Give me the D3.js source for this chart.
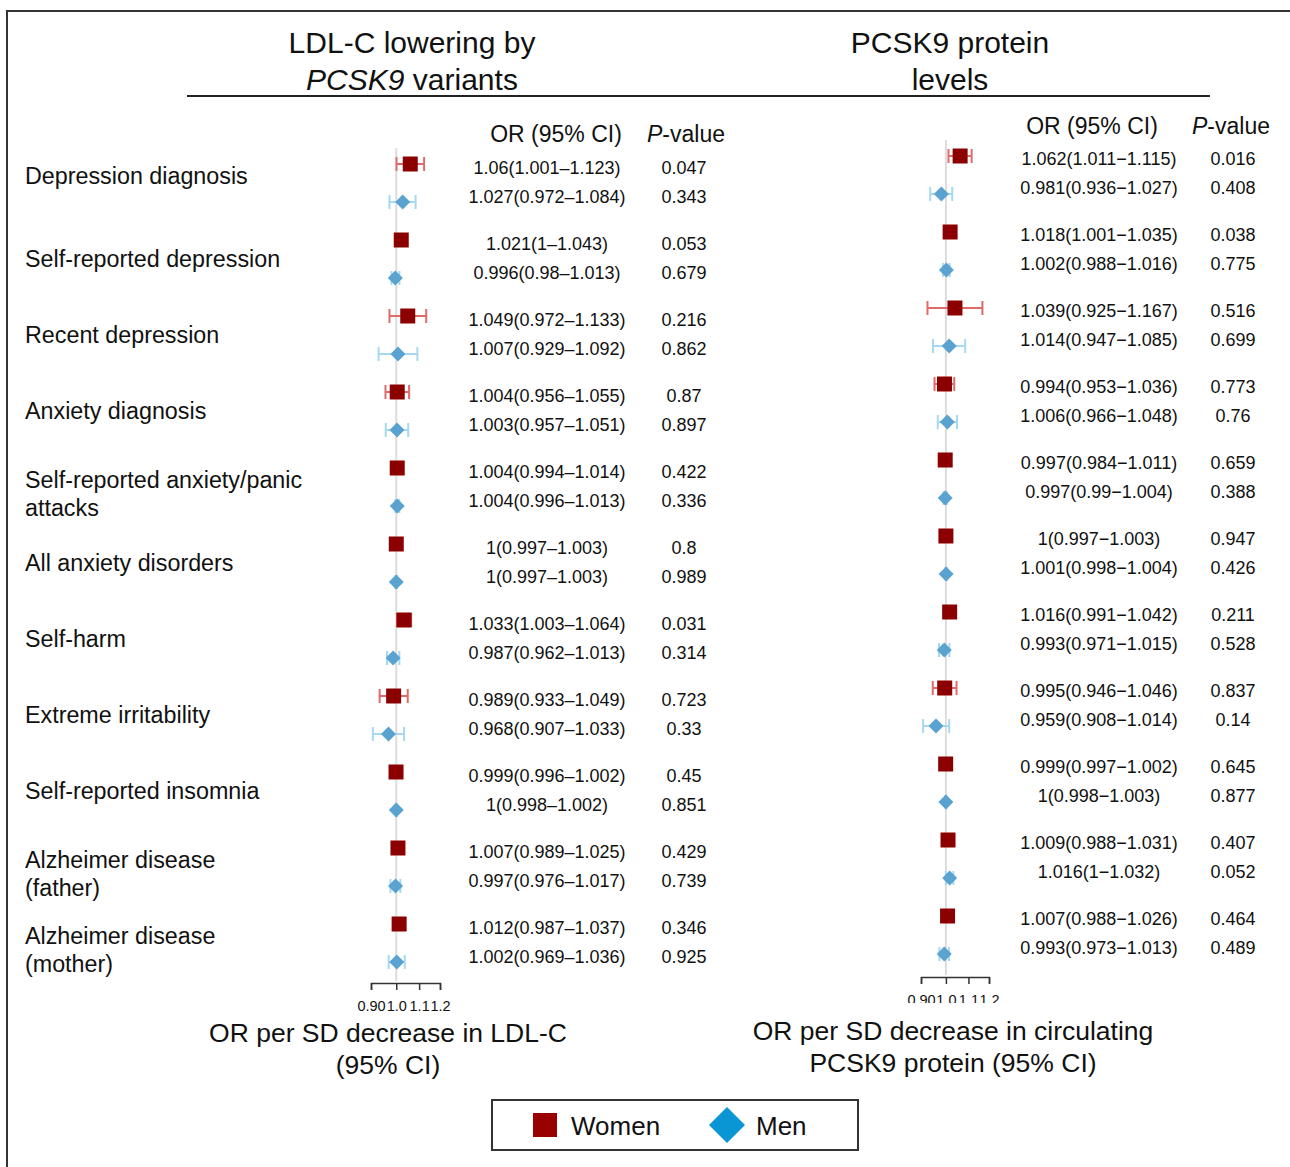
<!DOCTYPE html>
<html>
<head>
<meta charset="utf-8">
<script src="https://cdn.jsdelivr.net/npm/d3@7"></script>
<style>
    body { margin: 0; background: #fff; }
    svg text { font-family: "Liberation Sans", Arial, Helvetica, sans-serif; fill: #111; }
</style>
</head>
<body>
<script>
// ----- Data -----

const outcomes = [
    ["Depression diagnosis"],
    ["Self-reported depression"],
    ["Recent depression"],
    ["Anxiety diagnosis"],
    ["Self-reported anxiety/panic", "attacks"],
    ["All anxiety disorders"],
    ["Self-harm"],
    ["Extreme irritability"],
    ["Self-reported insomnia"],
    ["Alzheimer disease", "(father)"],
    ["Alzheimer disease", "(mother)"]
];

// LDL-C lowering by PCSK9 variants
const ldlWomenOR = [1.06, 1.021, 1.049, 1.004, 1.004, 1, 1.033, 0.989, 0.999, 1.007, 1.012];
const ldlWomenLo = [1.001, 1, 0.972, 0.956, 0.994, 0.997, 1.003, 0.933, 0.996, 0.989, 0.987];
const ldlWomenHi = [1.123, 1.043, 1.133, 1.055, 1.014, 1.003, 1.064, 1.049, 1.002, 1.025, 1.037];
const ldlWomenP = [0.047, 0.053, 0.216, 0.87, 0.422, 0.8, 0.031, 0.723, 0.45, 0.429, 0.346];
const ldlMenOR = [1.027, 0.996, 1.007, 1.003, 1.004, 1, 0.987, 0.968, 1, 0.997, 1.002];
const ldlMenLo = [0.972, 0.98, 0.929, 0.957, 0.996, 0.997, 0.962, 0.907, 0.998, 0.976, 0.969];
const ldlMenHi = [1.084, 1.013, 1.092, 1.051, 1.013, 1.003, 1.013, 1.033, 1.002, 1.017, 1.036];
const ldlMenP = [0.343, 0.679, 0.862, 0.897, 0.336, 0.989, 0.314, 0.33, 0.851, 0.739, 0.925];

// PCSK9 protein levels
const protWomenOR = [1.062, 1.018, 1.039, 0.994, 0.997, 1, 1.016, 0.995, 0.999, 1.009, 1.007];
const protWomenLo = [1.011, 1.001, 0.925, 0.953, 0.984, 0.997, 0.991, 0.946, 0.997, 0.988, 0.988];
const protWomenHi = [1.115, 1.035, 1.167, 1.036, 1.011, 1.003, 1.042, 1.046, 1.002, 1.031, 1.026];
const protWomenP = [0.016, 0.038, 0.516, 0.773, 0.659, 0.947, 0.211, 0.837, 0.645, 0.407, 0.464];
const protMenOR = [0.981, 1.002, 1.014, 1.006, 0.997, 1.001, 0.993, 0.959, 1, 1.016, 0.993];
const protMenLo = [0.936, 0.988, 0.947, 0.966, 0.99, 0.998, 0.971, 0.908, 0.998, 1, 0.973];
const protMenHi = [1.027, 1.016, 1.085, 1.048, 1.004, 1.004, 1.015, 1.014, 1.003, 1.032, 1.013];
const protMenP = [0.408, 0.775, 0.699, 0.76, 0.388, 0.426, 0.528, 0.14, 0.877, 0.052, 0.489];

const axisTicks = [0.9, 1, 1.1, 1.2];
const axisTickLabels = ["0.90", "1.0", "1.1", "1.2"];

const WomenColor = "#8b0000";
const WomenCIColor = "#e06a6a";
const MenColor = "#5aa2d0";
const MenCIColor = "#a6d8f2";

function zipRows(or, lo, hi, p) {
    return or.map((d, i) => ({ i: i, or: d, lo: lo[i], hi: hi[i], p: p[i] }));
}

// ----- Panel -----

function drawPanel(svg, opt) {
    const g = svg.append("g");

    const scaleX = d3.scaleLog()
        .domain([0.9, 1.2])
        .range(opt.xRange);
    const scaleRow = d3.scaleLinear()
        .domain([0, outcomes.length - 1])
        .range([opt.rowTop, opt.rowTop + 76 * (outcomes.length - 1)]);

    // reference line at OR = 1
    g.append("line")
        .attr("x1", scaleX(1)).attr("x2", scaleX(1))
        .attr("y1", scaleRow(0) - 16).attr("y2", opt.axisY - 2)
        .attr("stroke", "#dcdcdc")
        .attr("stroke-width", 2);

    // axis
    const axis = d3.axisBottom(scaleX)
        .tickValues(axisTicks)
        .tickFormat((d, i) => axisTickLabels[i])
        .tickSize(7)
        .tickSizeOuter(7)
        .tickPadding(11);
    const axisG = g.append("g")
        .attr("transform", `translate(0, ${opt.axisY})`)
        .call(axis);
    axisG.select(".domain").attr("stroke", "#333").attr("stroke-width", 1.5);
    axisG.selectAll(".tick line").attr("stroke", "#333").attr("stroke-width", 1.5);
    axisG.selectAll(".tick text")
        .attr("font-family", null)
        .style("font-size", "14.5px")
        .attr("fill", "#222");
    if (opt.clipAxisLabels) {
        svg.append("clipPath").attr("id", "axclip")
            .append("rect")
            .attr("x", 0).attr("y", -20)
            .attr("width", 1290).attr("height", 26 + 20);
        axisG.attr("clip-path", "url(#axclip)");
    }

    const series = [
        { rows: zipRows(opt.w.or, opt.w.lo, opt.w.hi, opt.w.p), dy: 0, textDy: opt.textDyW, shape: "square", color: WomenColor, ci: WomenCIColor },
        { rows: zipRows(opt.m.or, opt.m.lo, opt.m.hi, opt.m.p), dy: 38, textDy: opt.textDyM, shape: "diamond", color: MenColor, ci: MenCIColor }
    ];

    series.forEach(s => {
        const sg = g.append("g");
        const rows = sg.selectAll("g.row")
            .data(s.rows)
            .enter()
            .append("g")
                .attr("class", "row")
                .attr("transform", d => `translate(0, ${scaleRow(d.i) + s.dy})`);

        // CI whiskers
        rows.append("line")
            .attr("x1", d => scaleX(d.lo)).attr("x2", d => scaleX(d.hi))
            .attr("y1", 0).attr("y2", 0)
            .attr("stroke", s.ci).attr("stroke-width", 2);
        rows.append("line")
            .attr("x1", d => scaleX(d.lo)).attr("x2", d => scaleX(d.lo))
            .attr("y1", -7).attr("y2", 7)
            .attr("stroke", s.ci).attr("stroke-width", 2);
        rows.append("line")
            .attr("x1", d => scaleX(d.hi)).attr("x2", d => scaleX(d.hi))
            .attr("y1", -7).attr("y2", 7)
            .attr("stroke", s.ci).attr("stroke-width", 2);

        // point estimate
        if (s.shape === "square") {
            rows.append("rect")
                .attr("x", d => scaleX(d.or) - 7.5)
                .attr("y", -7.5)
                .attr("width", 15).attr("height", 15)
                .attr("fill", s.color);
        } else {
            rows.append("path")
                .attr("d", d => {
                    const x = scaleX(d.or), r = 7.5;
                    return `M${x},${-r}L${x + r},0L${x},${r}L${x - r},0Z`;
                })
                .attr("fill", s.color);
        }

        // OR (95% CI) and p text
        const texts = sg.selectAll("g.txt")
            .data(s.rows)
            .enter()
            .append("g")
                .attr("class", "txt")
                .attr("transform", d => `translate(0, ${scaleRow(d.i) + s.textDy})`);
        texts.append("text")
            .attr("x", opt.orX)
            .attr("dy", "0.35em")
            .attr("text-anchor", "middle")
            .style("font-size", "18px")
            .text(d => `${d.or}(${d.lo}${opt.dash}${d.hi})`);
        texts.append("text")
            .attr("x", opt.pX)
            .attr("dy", "0.35em")
            .attr("text-anchor", "middle")
            .style("font-size", "18px")
            .text(d => `${d.p}`);
    });

    // column headers
    g.append("text")
        .attr("x", opt.orHeadX).attr("y", opt.headerY)
        .attr("dy", "0.35em")
        .attr("text-anchor", "middle")
        .style("font-size", "23px")
        .text("OR (95% CI)");
    const ph = g.append("text")
        .attr("x", opt.pHeadX).attr("y", opt.headerY)
        .attr("dy", "0.35em")
        .attr("text-anchor", "middle")
        .style("font-size", "23px");
    ph.append("tspan").style("font-style", "italic").text("P");
    ph.append("tspan").text("-value");

    // x label
    const xl = g.append("text")
        .attr("text-anchor", "middle")
        .style("font-size", "26.5px");
    opt.xLabel.forEach((line, k) => {
        xl.append("tspan")
            .attr("x", opt.xLabelX)
            .attr("y", opt.xLabelY + k * 32)
            .attr("dy", "0.35em")
            .text(line);
    });

    return scaleRow;
}

// ----- Main program -----

function main() {
    const svg = d3.select("body").append("svg")
        .attr("width", 1290)
        .attr("height", 1167);

    svg.append("rect")
        .attr("x", 7).attr("y", 11)
        .attr("width", 1300).attr("height", 1200)
        .attr("fill", "none")
        .attr("stroke", "#333")
        .attr("stroke-width", 2);

    // titles
    const t1 = svg.append("text").attr("text-anchor", "middle").style("font-size", "30px");
    t1.append("tspan").attr("x", 412).attr("y", 42).attr("dy", "0.35em").text("LDL-C lowering by");
    const t1b = t1.append("tspan").attr("x", 412).attr("y", 79).attr("dy", "0.35em");
    t1b.append("tspan").style("font-style", "italic").text("PCSK9");
    t1b.append("tspan").text(" variants");

    const t2 = svg.append("text").attr("text-anchor", "middle").style("font-size", "30px");
    t2.append("tspan").attr("x", 950).attr("y", 42).attr("dy", "0.35em").text("PCSK9 protein");
    t2.append("tspan").attr("x", 950).attr("y", 79).attr("dy", "0.35em").text("levels");

    svg.append("line")
        .attr("x1", 187).attr("x2", 1210)
        .attr("y1", 96).attr("y2", 96)
        .attr("stroke", "#222").attr("stroke-width", 2);

    const leftRow = drawPanel(svg, {
        xRange: [371, 440],
        rowTop: 164,
        axisY: 983,
        textDyW: 4, textDyM: 33,
        orX: 547, pX: 684, headerY: 134,
        orHeadX: 556, pHeadX: 686,
        dash: "–",
        w: { or: ldlWomenOR, lo: ldlWomenLo, hi: ldlWomenHi, p: ldlWomenP },
        m: { or: ldlMenOR, lo: ldlMenLo, hi: ldlMenHi, p: ldlMenP },
        xLabel: ["OR per SD decrease in LDL-C", "(95% CI)"],
        xLabelX: 388, xLabelY: 1033
    });

    drawPanel(svg, {
        xRange: [921, 989],
        rowTop: 156,
        axisY: 977,
        textDyW: 3, textDyM: 32,
        orX: 1099, pX: 1233, headerY: 126,
        orHeadX: 1092, pHeadX: 1231,
        dash: "−",
        clipAxisLabels: true,
        w: { or: protWomenOR, lo: protWomenLo, hi: protWomenHi, p: protWomenP },
        m: { or: protMenOR, lo: protMenLo, hi: protMenHi, p: protMenP },
        xLabel: ["OR per SD decrease in circulating", "PCSK9 protein (95% CI)"],
        xLabelX: 953, xLabelY: 1031
    });

    // outcome labels
    const labels = svg.selectAll("text.outcome")
        .data(outcomes)
        .enter()
        .append("text")
            .attr("class", "outcome")
            .style("font-size", "23.3px");
    labels.each(function(lines, i) {
        const mid = leftRow(i) + (i === 0 ? 12 : 19) - (lines.length - 1) * 7;
        d3.select(this).selectAll("tspan")
            .data(lines)
            .enter()
            .append("tspan")
                .attr("x", 25)
                .attr("y", (d, k) => mid + k * 28)
                .attr("dy", "0.35em")
                .text(d => d);
    });

    // legend
    const legend = svg.append("g").attr("transform", "translate(492, 1100)");
    legend.append("rect")
        .attr("width", 366).attr("height", 50)
        .attr("fill", "none")
        .attr("stroke", "#333")
        .attr("stroke-width", 2);
    legend.append("rect")
        .attr("x", 41).attr("y", 13)
        .attr("width", 24).attr("height", 24)
        .attr("fill", "#990000");
    legend.append("text")
        .attr("x", 79).attr("y", 26).attr("dy", "0.35em")
        .style("font-size", "26px")
        .text("Women");
    legend.append("path")
        .attr("d", "M235,7L253,25L235,43L217,25Z")
        .attr("fill", "#0a96d4");
    legend.append("text")
        .attr("x", 264).attr("y", 26).attr("dy", "0.35em")
        .style("font-size", "26px")
        .text("Men");
}

main();
</script>
</body>
</html>
